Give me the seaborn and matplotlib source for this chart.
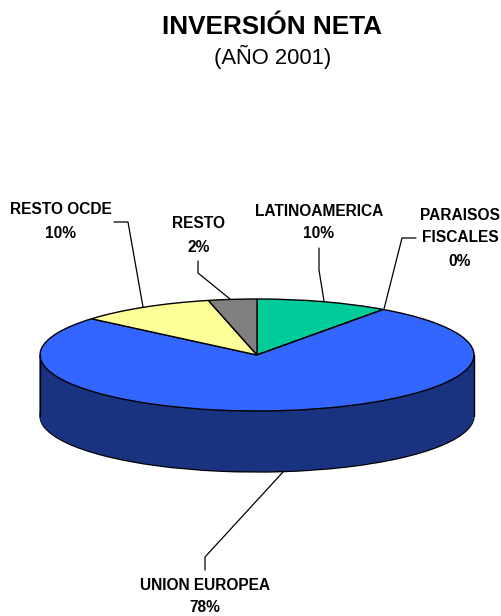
import matplotlib
matplotlib.use('Agg')
import matplotlib.pyplot as plt
import seaborn as sns

# wedge sizes as they look on the picture, clockwise from 12 o'clock
regions = ['LATINOAMERICA', 'PARAISOS\nFISCALES', 'UNION EUROPEA', 'RESTO OCDE', 'RESTO']
shares = [9.9, 0.0, 76.3, 10.2, 3.6]
printed_pct = [10, 0, 78, 10, 2]
top_colors = ['#00CC99', '#FF99CC', '#3366FF', '#FFFF99', '#808080']
side_color = '#1A3380'

title = 'INVERSIÓN NETA'
subtitle = '(AÑO 2001)'

W, H = 502, 616
CX, CY = 257, 355   # pie centre, px
RX, RY = 217, 56    # ellipse radii, px
DEPTH = 61          # px

sns.set_theme(style='white')
plt.rcParams['font.family'] = ['Liberation Sans', 'DejaVu Sans']

fig = plt.figure(figsize=(W / 100, H / 100), dpi=100, facecolor='white')

# ─── pie, squashed by the axes limits ───
ax = fig.add_axes([0, 0, 1, 1])
steps = list(range(DEPTH, 0, -1))
for d in steps:
    edge = 'black' if d == DEPTH else side_color
    ax.pie(shares, colors=[side_color] * len(shares), startangle=90, counterclock=False,
           center=(0, -d / RY), radius=1, normalize=True,
           wedgeprops={'edgecolor': edge, 'linewidth': 1.0 if d == DEPTH else 0.4})
ax.pie(shares, colors=top_colors, startangle=90, counterclock=False, center=(0, 0), radius=1,
       normalize=True, wedgeprops={'edgecolor': 'black', 'linewidth': 1.0})
ax.set_aspect('auto')
ax.set_xlim((0 - CX) / RX, (W - CX) / RX)
ax.set_ylim((CY - H) / RY, CY / RY)
ax.axis('off')

# ─── overlay in pixels for text and leaders ───
ov = fig.add_axes([0, 0, 1, 1])
ov.set_xlim(0, W)
ov.set_ylim(H, 0)
ov.axis('off')
ov.patch.set_alpha(0)

# sides of the cylinder
for x in (CX - RX, CX + RX):
    ov.plot([x, x], [CY, CY + DEPTH], color='black', lw=1.0)

leaders = [
    ([319, 319, 324], [248, 270, 301]),
    ([416, 402, 384], [238, 238, 309]),
    ([205, 205, 283], [570, 557, 472]),
    ([114, 128, 143], [222, 222, 307]),
    ([198, 198, 230], [261, 273, 299]),
]
for xs, ys in leaders:
    ov.plot(xs, ys, color='black', lw=0.9)

label_pos = [(319, 211, 22), (460, 215, 23), (205, 585, 22), (61, 210, 23), (199, 223, 24)]
for name, pct, (x, y, gap) in zip(regions, printed_pct, label_pos):
    for i, line in enumerate(name.split('\n') + [f'{pct}%']):
        ov.text(x, y + i * gap, line, ha='center', va='center', fontsize=11.2,
                fontweight='bold', color='black')

ov.text(272.5, 27, title, ha='center', va='center', fontsize=18.8, fontweight='bold', color='black')
ov.text(272.5, 57, subtitle, ha='center', va='center', fontsize=15.8, color='black')

plt.savefig('out.png', dpi=100, facecolor='white')
plt.close()
